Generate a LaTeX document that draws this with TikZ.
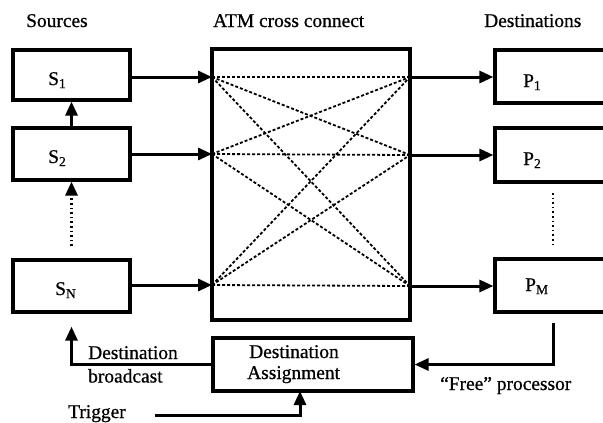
\documentclass[tikz,border=0pt]{standalone}
\usepackage{fontspec}
\setmainfont{Liberation Serif}[FakeBold=0.7]
\usetikzlibrary{arrows.meta}
\begin{document}
\begin{tikzpicture}[x=1bp,y=-1bp,
  box/.style={draw, line width=3.2bp, inner sep=0pt},
  arr/.style={line width=3bp, -{Triangle[length=14bp,width=12bp]}},
  xdash/.style={line width=1.8bp, dash pattern=on 3bp off 2bp},
  vdots/.style={line width=2.8bp, dash pattern=on 1.6bp off 3bp},
  txt/.style={inner sep=0pt, anchor=base west, font=\fontsize{19.5}{21}\selectfont}]
\useasboundingbox (0,0) rectangle (603,422);
\clip (0,0) rectangle (603,422);
% titles
\node[txt] (tsrc) at (26,27) {Sources};
\node[txt] (tatm) at (213,27) {ATM cross connect};
\node[txt] (tdst) at (484,27) {Destinations};
% source boxes
\node[box, minimum width=117bp, minimum height=50bp] (s1) at (71.5,75) {};
\node[box, minimum width=117bp, minimum height=52bp] (s2) at (71.5,154) {};
\node[box, minimum width=117bp, minimum height=52bp] (sn) at (71.5,286) {};
\node[txt] (s1t) at (48,85) {S\textsubscript{1}};
\node[txt] (s2t) at (48,163) {S\textsubscript{2}};
\node[txt] (snt) at (55,295) {S\textsubscript{N}};
% crossbar
\node[box, minimum width=198bp, minimum height=271bp] (xbar) at (311,184.5) {};
% destination boxes
\node[box, minimum width=130bp, minimum height=53bp] (p1) at (560,76.5) {};
\node[box, minimum width=130bp, minimum height=54bp] (p2) at (560,155) {};
\node[box, minimum width=130bp, minimum height=53bp] (pm) at (560,285.5) {};
\node[txt] (p1t) at (523,87) {P\textsubscript{1}};
\node[txt] (p2t) at (523,165) {P\textsubscript{2}};
\node[txt] (pmt) at (525,291) {P\textsubscript{M}};
% destination assignment
\node[box, minimum width=200bp, minimum height=53bp] (da) at (313,364.5) {};
\node[txt] (dat1) at (249,358) {Destination};
\node[txt] (dat2) at (247,379) {Assignment};
% crossbar ports
\coordinate (l1) at (212,77);
\coordinate (l2) at (212,154);
\coordinate (lN) at (212,285);
\coordinate (r1) at (410,77);
\coordinate (r2) at (410,155);
\coordinate (rM) at (410,286);
\foreach \a in {l1,l2,lN}
  \foreach \b in {r1,r2,rM}
    \draw[xdash] (\a) -- (\b);
% arrows in/out
\draw[arr] (s1.east |- l1) -- (l1);
\draw[arr] (s2.east |- l2) -- (l2);
\draw[arr] (sn.east |- lN) -- (lN);
\draw[arr] (r1) -- (p1.west |- r1);
\draw[arr] (r2) -- (p2.west |- r2);
\draw[arr] (rM) -- (pm.west |- rM);
% source chain
\draw[arr] (s2.north) -- (s1.south);
\coordinate (sd1) at (71.5,191);
\coordinate (sd2) at (71.5,246);
\draw[vdots] (sd2) -- (sd1);
\draw[arr] (sd1) -- (s2.south);
% destination dots
\coordinate (pd1) at (553,193);
\coordinate (pd2) at (553,246);
\draw[vdots] (pd1) -- (pd2);
% feedback
\draw[arr, shorten >=13bp] (da.west) -| (sn.south);
\coordinate (fp) at (553,323);
\draw[arr] (fp) |- (da.east);
\coordinate (trig) at (155,415);
\coordinate (datr) at (300,391);
\draw[arr] (trig) -| (datr);
% labels
\node[txt] (lb1) at (88,359) {Destination};
\node[txt] (lb2) at (88,382.5) {broadcast};
\node[txt] (lfp) at (440,390) {“Free” processor};
\node[txt] (ltr) at (68,418) {Trigger};
\end{tikzpicture}
\end{document}
